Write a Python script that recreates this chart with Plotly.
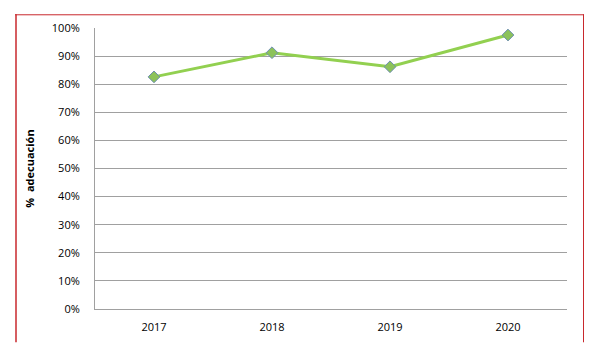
import plotly.graph_objects as go

years = ["2017", "2018", "2019", "2020"]
adecuacion = [0.826, 0.912, 0.862, 0.975]
y_ticks = [0, 0.1, 0.2, 0.3, 0.4, 0.5, 0.6, 0.7, 0.8, 0.9, 1.0]
y_tick_labels = ["0%", "10%", "20%", "30%", "40%", "50%", "60%", "70%", "80%", "90%", "100%"]

fig = go.Figure()
fig.add_trace(go.Scatter(
    x=years, y=adecuacion, mode="lines+markers",
    line=dict(color="#92D050", width=3),
    marker=dict(symbol="diamond", size=9, color="#8CC25A",
                line=dict(color="#6E8FB0", width=1)),
    showlegend=False,
))

# page body has an 8px margin; figure is sized to fit the window
OFF = 8
W, H = 603 - OFF, 350 - OFF
L, R, T, B = 95 - OFF, 36, 22 - OFF, 41
pw, ph = W - L - R, H - T - B

def px(xw):
    return (xw - OFF - L) / pw

def py(yw):
    return (H - B - (yw - OFF)) / ph

red = "#C8282D"
shapes = [
    dict(type="line", xref="paper", yref="paper", x0=px(15), x1=px(584), y0=py(8.5), y1=py(8.5),
         line=dict(color=red, width=1)),
    dict(type="line", xref="paper", yref="paper", x0=px(16), x1=px(16), y0=py(8), y1=py(343),
         line=dict(color=red, width=1.5)),
    dict(type="line", xref="paper", yref="paper", x0=px(583.5), x1=px(583.5), y0=py(8), y1=py(343),
         line=dict(color=red, width=1)),
]

fig.update_layout(
    width=W, height=H,
    margin=dict(l=L, r=R, t=T, b=B),
    paper_bgcolor="white", plot_bgcolor="white",
    font=dict(family="Open Sans, Liberation Sans, sans-serif", size=11, color="#000000"),
    shapes=shapes,
    xaxis=dict(
        type="category", showgrid=False, showline=True, linecolor="#A0A0A0", linewidth=1,
        ticks="", ticklabelstandoff=8, range=[-0.5, 3.5], fixedrange=True,
    ),
    yaxis=dict(
        range=[0, 1.0], tickvals=y_ticks, ticktext=y_tick_labels,
        showgrid=True, gridcolor="#A0A0A0", gridwidth=1,
        showline=True, linecolor="#A0A0A0", linewidth=1,
        ticks="", ticklabelstandoff=12, zeroline=False,
        title=dict(text="<b>%  adecuación</b>", font=dict(size=11), standoff=14),
    ),
)

fig.write_html("out.html")
